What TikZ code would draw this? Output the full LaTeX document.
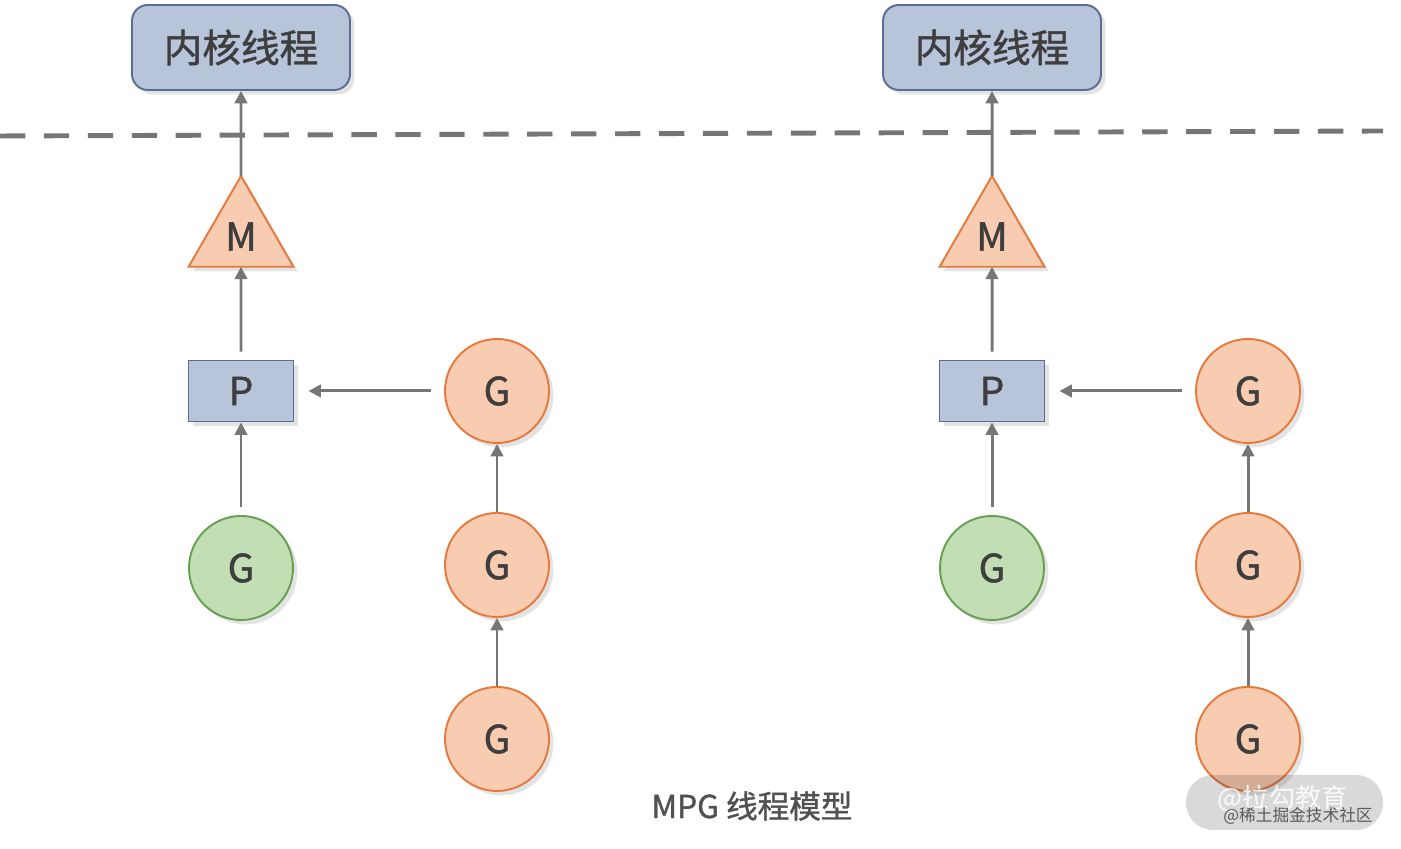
\documentclass[tikz,border=0pt]{standalone}
\usepackage{fontspec}
\setmainfont{Noto Sans CJK SC}
\newfontfamily\medfont[FakeBold=1.2]{Noto Sans CJK SC}
\usetikzlibrary{arrows.meta,shapes.geometric,shadows}

\definecolor{kernelfill}{RGB}{184,196,217}
\definecolor{kerneldraw}{RGB}{88,110,150}
\definecolor{gfill}{RGB}{248,204,176}
\definecolor{gdraw}{RGB}{230,122,62}
\definecolor{greenfill}{RGB}{194,222,180}
\definecolor{greendraw}{RGB}{104,160,82}
\definecolor{arrowgray}{RGB}{118,118,118}
\definecolor{textgray}{RGB}{62,62,62}

\tikzset{
    softshadow/.style={drop shadow={shadow xshift=2.5pt, shadow yshift=-2.5pt, opacity=0.22}},
    kernel/.style={draw=kerneldraw, fill=kernelfill, line width=1.1pt, rounded corners=9pt,
        minimum width=4.36cm, minimum height=1.7cm, font=\medfont\fontsize{22}{24}\selectfont, softshadow},
    mnode/.style={regular polygon, regular polygon sides=3, draw=gdraw, fill=gfill, line width=1.1pt,
        minimum size=2.42cm, inner sep=0pt, outer sep=0pt, font=\medfont\fontsize{22}{24}\selectfont, softshadow},
    pnode/.style={draw=kerneldraw, fill=kernelfill, line width=1.1pt,
        minimum width=2.1cm, minimum height=1.22cm, font=\medfont\fontsize{22}{24}\selectfont, softshadow},
    gnode/.style={circle, draw=gdraw, fill=gfill, line width=1.1pt, minimum size=2.08cm,
        inner sep=0pt, font=\medfont\fontsize{22}{24}\selectfont, softshadow},
    greennode/.style={gnode, draw=greendraw, fill=greenfill},
    link/.style={draw=arrowgray, line width=1.7pt, -{Triangle[length=7pt,width=7pt]}},
}

\begin{document}
\begin{tikzpicture}[text=textgray]
    \useasboundingbox (0,0) rectangle (28.02,16.98);

    % Dividing line between kernel and user space
    \draw[arrowgray, line width=2.8pt, dash pattern=on 14.4pt off 10.6pt] (0,14.26) -- (27.66,14.36);

    % Left group
    \node[kernel] (kl) at (4.82,16.03) {内核线程};
    \node[mnode] (ml) at (4.82,12.25) {M};
    \node[pnode] (pl) at (4.82,9.16) {P};
    \node[greennode] (gl) at (4.82,5.62) {G};
    \node[gnode] (ql1) at (9.94,9.16) {G};
    \node[gnode] (ql2) at (9.94,5.68) {G};
    \node[gnode] (ql3) at (9.94,2.20) {G};

    % Right group
    \node[kernel] (kr) at (19.84,16.03) {内核线程};
    \node[mnode] (mr) at (19.84,12.25) {M};
    \node[pnode] (pr) at (19.84,9.16) {P};
    \node[greennode] (gr) at (19.84,5.62) {G};
    \node[gnode] (qr1) at (24.96,9.16) {G};
    \node[gnode] (qr2) at (24.96,5.68) {G};
    \node[gnode] (qr3) at (24.96,2.20) {G};

    % Arrows, left group
    \draw[link] (ml.north) -- (kl.south);
    \draw[link, shorten <=0.16cm] (pl.north) -- (ml.south);
    \draw[link, shorten <=0.16cm] (gl.north) -- (pl.south);
    \draw[link, shorten <=0.26cm, shorten >=0.28cm] (ql1.west) -- (pl.east);
    \draw[link] (ql2.north) -- (ql1.south);
    \draw[link] (ql3.north) -- (ql2.south);

    % Arrows, right group
    \draw[link] (mr.north) -- (kr.south);
    \draw[link, shorten <=0.16cm] (pr.north) -- (mr.south);
    \draw[link, shorten <=0.16cm] (gr.north) -- (pr.south);
    \draw[link, shorten <=0.26cm, shorten >=0.28cm] (qr1.west) -- (pr.east);
    \draw[link] (qr2.north) -- (qr1.south);
    \draw[link] (qr3.north) -- (qr2.south);

    % Caption
    \node[font=\medfont\fontsize{18}{20}\selectfont, text=textgray!90] (title) at (15.04,0.86) {MPG 线程模型};

    % Watermark
    \fill[black, opacity=0.15, rounded corners=0.54cm] (23.72,0.38) rectangle (27.66,1.48);
    \node[font=\fontsize{15}{17}\selectfont, text=white, opacity=0.85] (wm1) at (25.66,1.0) {@拉勾教育};
    \node[font=\fontsize{9.5}{11}\selectfont, text=textgray!85] (wm2) at (25.96,0.66) {@稀土掘金技术社区};
\end{tikzpicture}
\end{document}
